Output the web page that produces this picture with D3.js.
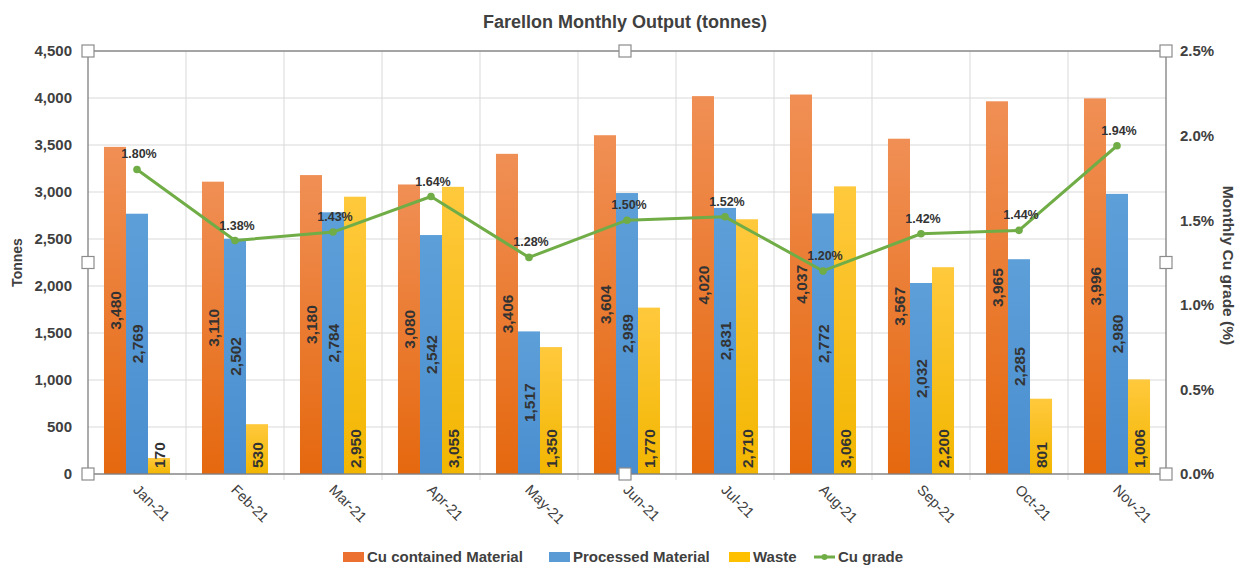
<!DOCTYPE html>
<html><head><meta charset="utf-8">
<script src="https://cdn.jsdelivr.net/npm/d3@7"></script>
<style>body{margin:0;background:#fff}svg{display:block;font-family:"Liberation Sans",Arial,sans-serif}</style>
</head><body><svg id="c" width="1238" height="566"></svg>
<script>
const months = ["Jan-21","Feb-21","Mar-21","Apr-21","May-21","Jun-21","Jul-21","Aug-21","Sep-21","Oct-21","Nov-21"];
const cuContained = [3480,3110,3180,3080,3406,3604,4020,4037,3567,3965,3996];
const processed = [2769,2502,2784,2542,1517,2989,2831,2772,2032,2285,2980];
const waste = [170,530,2950,3055,1350,1770,2710,3060,2200,801,1006];
const cuGrade = [1.80,1.38,1.43,1.64,1.28,1.50,1.52,1.20,1.42,1.44,1.94];
const leftTicks = [0,500,1000,1500,2000,2500,3000,3500,4000,4500];
const rightTicks = [0,0.5,1.0,1.5,2.0,2.5];
const seriesNames = ["Cu contained Material","Processed Material","Waste"];

const svg = d3.select("#c");
const L=88,R=1166,T=51,B=474;
const x = d3.scaleBand().domain(months).range([L,R]);
const bw = x.bandwidth();
const x1 = d3.scaleBand().domain(seriesNames).range([bw*0.163, bw*0.837]);
const y = d3.scaleLinear().domain([0,4500]).range([B,T]);
const y2 = d3.scaleLinear().domain([0,2.5]).range([B,T]);

const defs = svg.append("defs");
function grad(id, top, bot){
  const g = defs.append("linearGradient").attr("id",id).attr("x1",0).attr("y1",0).attr("x2",0).attr("y2",1);
  g.append("stop").attr("offset","0%").attr("stop-color",top);
  g.append("stop").attr("offset","100%").attr("stop-color",bot);
}
grad("gO","#F08F55","#E5680E");
grad("gB","#5D9FD8","#4A8ED0");
grad("gY","#FFC93D","#F2B600");
const fills = {"Cu contained Material":"url(#gO)","Processed Material":"url(#gB)","Waste":"url(#gY)"};
const legendColors = {"Cu contained Material":"#EC7131","Processed Material":"#5B9BD5","Waste":"#FFC000"};

// gridlines
svg.append("g").selectAll("line").data(leftTicks).join("line")
  .attr("x1",L).attr("x2",R).attr("y1",d=>y(d)).attr("y2",d=>y(d))
  .attr("stroke","#D9D9D9").attr("stroke-width",1);
svg.append("g").selectAll("line").data(months.slice(1)).join("line")
  .attr("x1",d=>x(d)).attr("x2",d=>x(d)).attr("y1",T).attr("y2",B+6)
  .attr("stroke","#D9D9D9").attr("stroke-width",1);

// bars
const data = months.map((m,i)=>({m, vals:[cuContained[i],processed[i],waste[i]]}));
const gBars = svg.append("g");
data.forEach(d=>{
  seriesNames.forEach((s,k)=>{
    const v = d.vals[k];
    gBars.append("rect").attr("x",x(d.m)+x1(s)).attr("width",x1.bandwidth())
      .attr("y",y(v)).attr("height",B-y(v)).attr("fill",fills[s]);
  });
});
// bar labels
const fmt = d3.format(",");
data.forEach(d=>{
  seriesNames.forEach((s,k)=>{
    const v = d.vals[k];
    const cx = x(d.m)+x1(s)+x1.bandwidth()/2;
    let cy, anchor;
    if(k<2){ cy = (y(v)+B)/2; anchor="middle"; }
    else { cy = B-6; anchor="start"; }
    svg.append("text").attr("transform",`translate(${cx},${cy}) rotate(-90)`)
      .attr("text-anchor",anchor).attr("dy","0.36em")
      .attr("font-size",15.5).attr("font-weight","bold").attr("fill","#333")
      .text(fmt(v));
  });
});

// axes frame
svg.append("rect").attr("x",L).attr("y",T).attr("width",R-L).attr("height",B-T)
  .attr("fill","none").attr("stroke","#7F7F7F").attr("stroke-width",1.3);

// line
const line = d3.line().x((d,i)=>x(months[i])+bw/2).y(d=>y2(d));
svg.append("path").datum(cuGrade).attr("d",line).attr("fill","none")
  .attr("stroke","#70AD47").attr("stroke-width",3).attr("stroke-linejoin","round");
svg.append("g").selectAll("circle").data(cuGrade).join("circle")
  .attr("cx",(d,i)=>x(months[i])+bw/2).attr("cy",d=>y2(d)).attr("r",3.8).attr("fill","#70AD47");
svg.append("g").selectAll("text").data(cuGrade).join("text")
  .attr("x",(d,i)=>x(months[i])+bw/2+2).attr("y",d=>y2(d)-11)
  .attr("text-anchor","middle").attr("font-size",12.5).attr("font-weight","bold").attr("fill","#333")
  .text(d=>d.toFixed(2)+"%");

// left axis labels
svg.append("g").selectAll("text").data(leftTicks).join("text")
  .attr("x",72).attr("y",d=>y(d)).attr("dy","0.36em").attr("text-anchor","end")
  .attr("font-size",15).attr("font-weight","bold").attr("fill","#404040").text(d=>fmt(d));
// right axis labels
svg.append("g").selectAll("text").data(rightTicks).join("text")
  .attr("x",1180).attr("y",d=>y2(d)).attr("dy","0.36em").attr("text-anchor","start")
  .attr("font-size",15).attr("font-weight","bold").attr("fill","#404040").text(d=>d.toFixed(1)+"%");
// x labels
svg.append("g").selectAll("text").data(months).join("text")
  .attr("transform",d=>`translate(${x(d)+bw/2-1},${B+13}) rotate(45)`)
  .attr("dy","0.36em").attr("font-size",14.5).attr("fill","#404040").text(d=>d);

// titles
svg.append("text").attr("x",625).attr("y",28).attr("text-anchor","middle")
  .attr("font-size",18).attr("font-weight","bold").attr("fill","#404040").text("Farellon Monthly Output (tonnes)");
svg.append("text").attr("transform",`translate(22,${(T+B)/2}) rotate(-90)`).attr("text-anchor","middle")
  .attr("font-size",14).attr("font-weight","bold").attr("fill","#404040").text("Tonnes");
svg.append("text").attr("transform",`translate(1223,${(T+B)/2+3}) rotate(90)`).attr("text-anchor","middle")
  .attr("font-size",15.5).attr("font-weight","bold").attr("fill","#404040").text("Monthly Cu grade (%)");

// selection handles
const mid = (L+R)/2 - 2, midY = (T+B)/2;
const handles = [[L,T],[mid,T],[R,T],[L,midY],[R,midY],[L,B],[mid,B],[R,B]];
svg.append("g").selectAll("rect").data(handles).join("rect")
  .attr("x",d=>d[0]-6).attr("y",d=>d[1]-6).attr("width",12).attr("height",12)
  .attr("fill","#fff").attr("stroke","#8C8C8C").attr("stroke-width",1.2);

// legend
const lg = svg.append("g").attr("font-size",15).attr("font-weight","bold").attr("fill","#404040");
const legendItems = [
  {name:"Cu contained Material", x:343, type:"rect"},
  {name:"Processed Material", x:549, type:"rect"},
  {name:"Waste", x:729, type:"rect"},
  {name:"Cu grade", x:814, type:"line"}
];
const ly = 557;
legendItems.forEach(it=>{
  if(it.type==="rect"){
    lg.append("rect").attr("x",it.x).attr("y",ly-5).attr("width",21).attr("height",10).attr("fill",legendColors[it.name]);
  } else {
    lg.append("line").attr("x1",it.x).attr("x2",it.x+21).attr("y1",ly).attr("y2",ly).attr("stroke","#70AD47").attr("stroke-width",3);
    lg.append("circle").attr("cx",it.x+10.5).attr("cy",ly).attr("r",3).attr("fill","#70AD47");
  }
  lg.append("text").attr("x",it.x+24).attr("y",ly).attr("dy","0.36em").text(it.name);
});
</script></body></html>
